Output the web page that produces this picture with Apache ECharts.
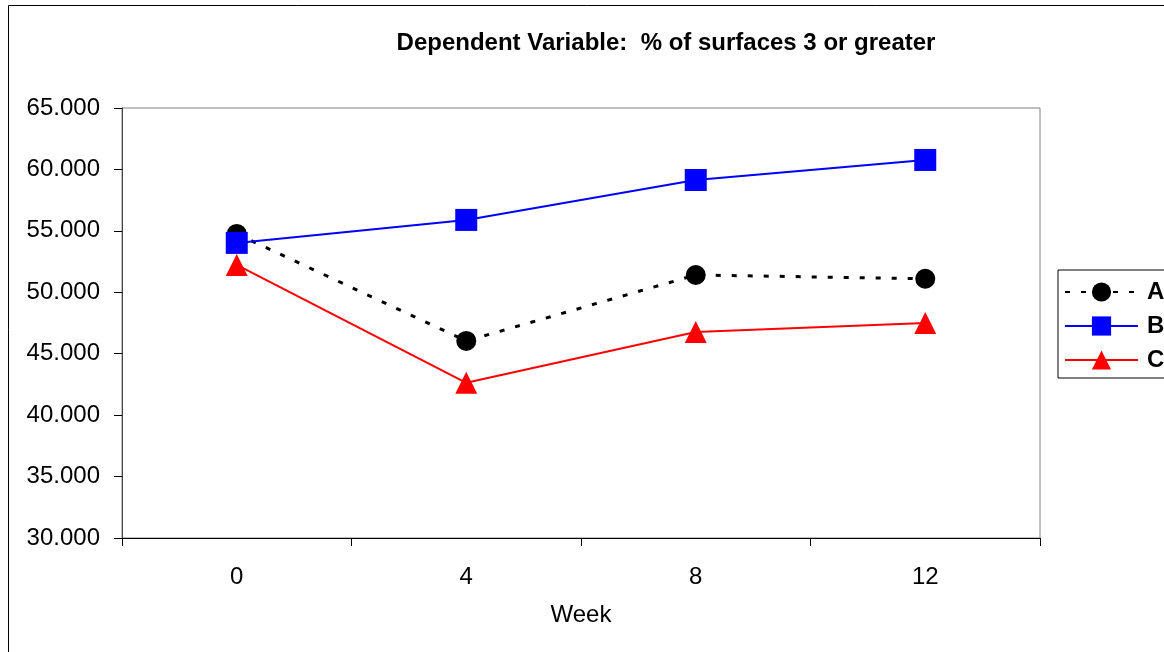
<!DOCTYPE html>
<html>
<head>
<meta charset="utf-8">
<script src="https://cdn.jsdelivr.net/npm/echarts@6/dist/echarts.min.js"></script>
<style>
html,body{margin:0;padding:0;background:#fff;}
#chart{width:1164px;height:652px;}
</style>
</head>
<body>
<div id="chart"></div>
<script>
var weeks = ['0', '4', '8', '12'];
var seriesA = [54.75, 46.04, 51.41, 51.10];
var seriesB = [54.02, 55.89, 59.14, 60.77];
var seriesC = [52.23, 42.63, 46.77, 47.50];
var titleText = 'Dependent Variable:  % of surfaces 3 or greater';
var xName = 'Week';

var font = 'Liberation Sans, Arial, sans-serif';
var chart = echarts.init(document.getElementById('chart'));
chart.setOption({
  animation: false,
  backgroundColor: '#fff',
  textStyle: { fontFamily: font },
  title: {
    text: titleText,
    left: 661, textAlign: 'center', top: 26,
    textStyle: { fontSize: 24, fontWeight: 'bold', color: '#000', fontFamily: font }
  },
  graphic: [{
    type: 'rect', z: -1, silent: true,
    shape: { x: 8.5, y: 5.5, width: 1300, height: 800 },
    style: { fill: 'none', stroke: '#000', lineWidth: 1 }
  }],
  grid: {
    left: 122, right: 124, top: 108, bottom: 114,
    show: true, borderColor: '#808080', borderWidth: 1, backgroundColor: '#fff'
  },
  legend: {
    orient: 'vertical', left: 1058, top: 270,
    itemWidth: 73, itemHeight: 24, itemGap: 10,
    padding: [10, 40, 6, 6],
    borderColor: '#000', borderWidth: 1, backgroundColor: '#fff',
    textStyle: { fontSize: 24, fontWeight: 'bold', color: '#000', fontFamily: font, padding: [0, 0, 0, 4] },
    data: ['A', 'B', 'C']
  },
  xAxis: {
    type: 'category', data: weeks, boundaryGap: true,
    name: xName, nameLocation: 'middle', nameGap: 65,
    nameTextStyle: { fontSize: 24, color: '#000', fontFamily: font },
    axisLine: { lineStyle: { color: '#000', width: 1 } },
    axisTick: { show: true, length: 8, inside: false, lineStyle: { color: '#000' } },
    axisLabel: { fontSize: 24, color: '#000', margin: 27, fontFamily: font },
    splitLine: { show: false }
  },
  yAxis: {
    type: 'value', min: 30, max: 65, interval: 5,
    axisLine: { show: true, lineStyle: { color: '#444', width: 1 } },
    axisTick: { show: true, length: 8, lineStyle: { color: '#000' } },
    axisLabel: { fontSize: 24, color: '#000', margin: 22, fontFamily: font,
      formatter: function (v) { return v.toFixed(3); } },
    splitLine: { show: false }
  },
  series: [
    { name: 'A', type: 'line', data: seriesA, symbol: 'circle', symbolSize: 20,
      itemStyle: { color: '#000' },
      lineStyle: { color: '#000', width: 3, type: [5, 11] }, z: 2 },
    { name: 'B', type: 'line', data: seriesB, symbol: 'rect', symbolSize: 22,
      itemStyle: { color: '#0000FF' },
      lineStyle: { color: '#0000FF', width: 2 }, z: 3 },
    { name: 'C', type: 'line', data: seriesC, symbol: 'triangle', symbolSize: 22,
      itemStyle: { color: '#FF0000' },
      lineStyle: { color: '#FF0000', width: 2 }, z: 4 }
  ]
});
</script>
</body>
</html>
